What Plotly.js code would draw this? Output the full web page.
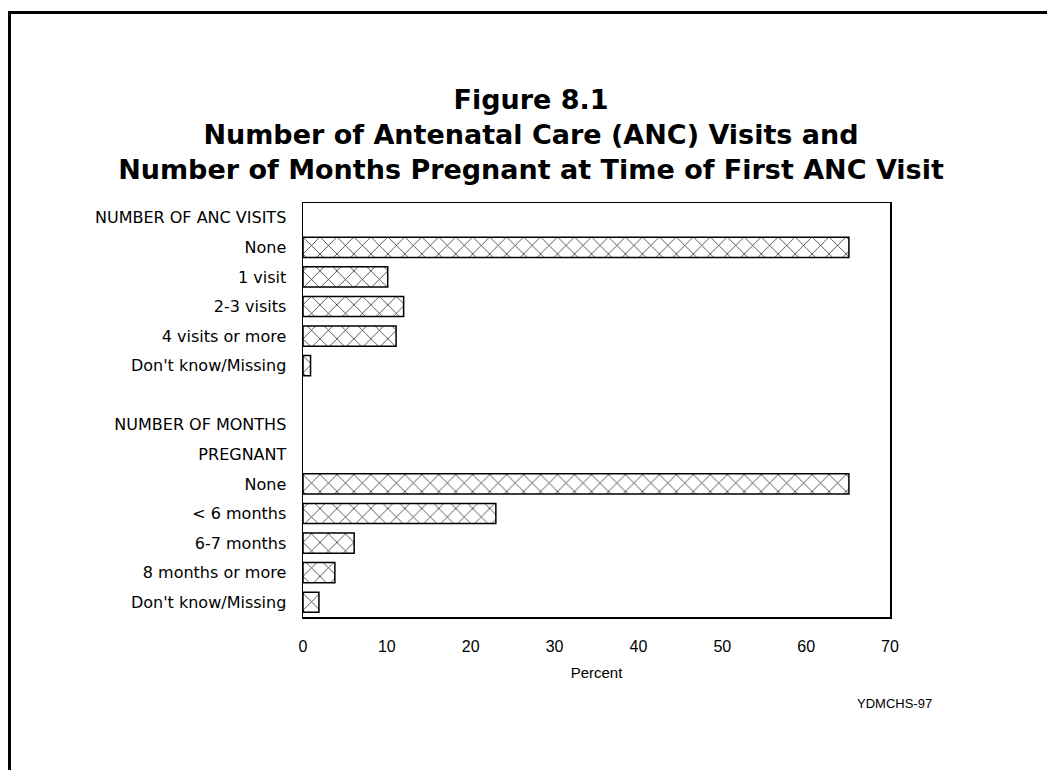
<!DOCTYPE html>
<html>
<head>
<meta charset="utf-8">
<script src="https://cdn.plot.ly/plotly-3.0.1.min.js"></script>
<style>
	html, body { margin: 0; padding: 0; background: #ffffff; }
	#plot { width: 1047px; height: 770px; }
</style>
</head>
<body>
<div id="plot"></div>
<script>
const ANC_HEADER = ["NUMBER OF ANC VISITS"];
const ancLabels = ["None", "1 visit", "2-3 visits", "4 visits or more", "Don't know/Missing"];
const ancValues = [65.1, 10.1, 12.0, 11.1, 0.9];

const MONTH_HEADER = ["NUMBER OF MONTHS", "PREGNANT"];
const monthLabels = ["None", "< 6 months", "6-7 months", "8 months or more", "Don't know/Missing"];
const monthValues = [65.1, 23.0, 6.1, 3.8, 1.9];

const xTicks = [0, 10, 20, 30, 40, 50, 60, 70];

// rows top to bottom: header, anc bars, blank, header (2 lines), month bars
const rowLabels = [...ANC_HEADER, ...ancLabels, "", ...MONTH_HEADER, ...monthLabels];
const rowIndex = rowLabels.map((_, i) => i);
const ancRows = ancLabels.map((_, i) => ANC_HEADER.length + i);
const monthStart = ANC_HEADER.length + ancLabels.length + 1 + MONTH_HEADER.length;
const monthRows = monthLabels.map((_, i) => monthStart + i);

// plot box in pixels, used to place the frame and source note
const L = 303, R = 890, T = 203, B = 617, W = 1047, H = 770;
const px = (x) => (x - L) / (R - L);
const py = (y) => (B - y) / (B - T);

const barStyle = {
	color: "#ffffff",
	line: { color: "#000000", width: 1.5 },
	pattern: { shape: "x", fgcolor: "#222222", bgcolor: "#ffffff", size: 12, solidity: 0.12 },
};

const traces = [
	{
		type: "bar",
		orientation: "h",
		x: ancValues,
		y: ancRows,
		width: 0.68,
		marker: barStyle,
		hoverinfo: "x",
	},
	{
		type: "bar",
		orientation: "h",
		x: monthValues,
		y: monthRows,
		width: 0.68,
		marker: barStyle,
		hoverinfo: "x",
	},
];

const layout = {
	width: W,
	height: H,
	paper_bgcolor: "#ffffff",
	plot_bgcolor: "#ffffff",
	showlegend: false,
	barmode: "overlay",
	margin: { l: L, r: W - R, t: T, b: H - B, pad: 0 },
	font: { family: "DejaVu Sans, sans-serif", color: "#000000" },
	title: {
		text: "Figure 8.1<br>Number of Antenatal Care (ANC) Visits and<br>Number of Months Pregnant at Time of First ANC Visit",
		font: { family: "DejaVu Sans, sans-serif", size: 27, color: "#000000", weight: "bold" },
		x: 531 / W,
		xref: "container",
		xanchor: "center",
		y: 1 - 109 / H,
		yref: "container",
		yanchor: "top",
	},
	xaxis: {
		range: [0, 70],
		tickvals: xTicks,
		ticktext: xTicks.map(String),
		showgrid: false,
		zeroline: false,
		showline: true,
		mirror: true,
		linecolor: "#000000",
		linewidth: 1.5,
		ticks: "",
		ticklabelstandoff: 14,
		tickfont: { family: "Liberation Sans Narrow, Liberation Sans, sans-serif", size: 16 },
		title: {
			text: "Percent",
			font: { family: "Liberation Sans Narrow, Liberation Sans, sans-serif", size: 15 },
			standoff: 14,
		},
		fixedrange: true,
	},
	yaxis: {
		range: [rowLabels.length - 0.5, -0.5],
		tickvals: rowIndex,
		ticktext: rowLabels,
		showgrid: false,
		zeroline: false,
		showline: true,
		mirror: true,
		linecolor: "#000000",
		linewidth: 1.5,
		ticks: "",
		ticklabelstandoff: 12,
		tickfont: { family: "DejaVu Sans, sans-serif", size: 16 },
		fixedrange: true,
	},
	annotations: [
		{
			text: "YDMCHS-97",
			xref: "paper",
			yref: "paper",
			x: px(895),
			y: py(703),
			xanchor: "center",
			yanchor: "middle",
			showarrow: false,
			font: { family: "Liberation Sans Narrow, Liberation Sans, sans-serif", size: 13 },
		},
	],
	shapes: [
		// page frame: left and top edges only
		{
			type: "line", xref: "paper", yref: "paper",
			x0: px(9.5), x1: px(9.5), y0: py(H + 5), y1: py(11),
			line: { color: "#000000", width: 3 },
		},
		{
			type: "line", xref: "paper", yref: "paper",
			x0: px(8), x1: px(W + 5), y0: py(12.5), y1: py(12.5),
			line: { color: "#000000", width: 3 },
		},
	],
};

const config = {
	responsive: false,
	displayModeBar: false,
	staticPlot: true,
};

Plotly.newPlot("plot", traces, layout, config);
</script>
</body>
</html>
